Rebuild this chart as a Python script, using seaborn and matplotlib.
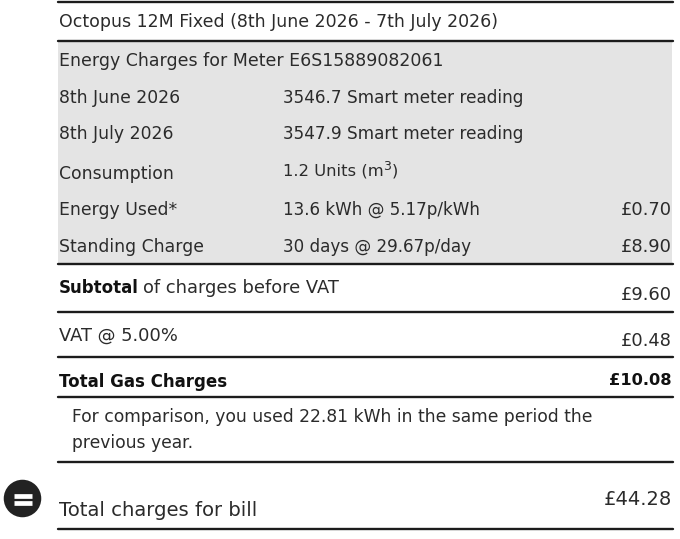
import matplotlib
matplotlib.use("Agg")
import matplotlib.pyplot as plt
import pandas as pd
import seaborn as sns

sns.set_theme(style="white")
plt.rcParams["font.family"] = ["DejaVu Sans"]

# bill text
title = "Octopus 12M Fixed (8th June 2026 - 7th July 2026)"
meter = "Energy Charges for Meter E6S15889082061"
row_labels = ["8th June 2026", "8th July 2026", "Consumption", "Energy Used*", "Standing Charge"]
row_details = ["3546.7 Smart meter reading", "3547.9 Smart meter reading", "1.2 Units (m",
               "13.6 kWh @ 5.17p/kWh", "30 days @ 29.67p/day"]
row_amounts = ["", "", "", "£0.70", "£8.90"]
subtotal = "£9.60"
vat = "£0.48"
gas_total = "£10.08"
bill_total = "£44.28"

# layout in image pixels
left, mid, right = 59, 283, 672
rules = [1.5, 41, 264, 312, 357, 397, 462, 529]
row_y = [103, 139, 179, 215, 252]
detail_y = [103, 139, 176, 215, 252]
detail_fs = [12.2, 12.2, 11.8, 12.1, 12.1]
ink = "#2b2b2b"
fs = 12.4

fig, ax = plt.subplots(figsize=(6.8, 5.39), dpi=100)
fig.subplots_adjust(0, 0, 1, 1)

# grey block behind the meter rows
ax.fill_between([58, right], 41, 264, color="#e4e4e4", lw=0, zorder=0)

# horizontal rules
rule_df = pd.DataFrame({
    "x": [58, 673] * len(rules),
    "y": [y for y in rules for _ in range(2)],
    "rule": [i for i in range(len(rules)) for _ in range(2)],
})
sns.lineplot(data=rule_df, x="x", y="y", units="rule", estimator=None,
             color="#1c1c1c", lw=1.7, ax=ax, legend=False)

def put(x, y, s, **kw):
    kw.setdefault("fontsize", fs)
    kw.setdefault("color", ink)
    ax.text(x, y, s, va="baseline", **kw)

put(left, 27, title, fontsize=12.55)
put(left, 66, meter, fontsize=12.5)
for lab, det, amt, y, dy, dfs in zip(row_labels, row_details, row_amounts, row_y, detail_y, detail_fs):
    put(left, y, lab)
    put(mid, dy, det, fontsize=dfs)
    if amt:
        put(right, y, amt, ha="right", fontsize=12.9)

# m3 superscript
put(383, 170, "3", fontsize=9)
put(392, 176, ")", fontsize=11.8)

put(left, 293, "Subtotal", fontweight="bold", color="#111111", fontsize=12)
put(143, 293, "of charges before VAT", fontsize=12.9)
put(right, 300, subtotal, ha="right", fontsize=12.9)
put(left, 341, "VAT @ 5.00%", fontsize=12.9)
put(right, 346, vat, ha="right", fontsize=12.9)
put(left, 387, "Total Gas Charges", fontweight="bold", color="#111111", fontsize=12)
put(right, 385, gas_total, ha="right", fontweight="bold", color="#111111", fontsize=11.7)
put(72, 422, "For comparison, you used 22.81 kWh in the same period the", fontsize=12.3)
put(72, 448, "previous year.", fontsize=12.3)
put(left, 516, "Total charges for bill", fontsize=14.1)
put(right, 505, bill_total, ha="right", fontsize=14)

# equals badge
sns.scatterplot(x=[22], y=[498], s=730, color="#222222", linewidth=0, ax=ax, legend=False)
ax.hlines([495.5, 503], 13.5, 31.5, color="white", lw=3.4, zorder=4)

ax.set_xlim(0, 680)
ax.set_ylim(539, 0)
ax.set_xlabel("")
ax.set_ylabel("")
ax.axis("off")
fig.savefig("out.png", dpi=100)
